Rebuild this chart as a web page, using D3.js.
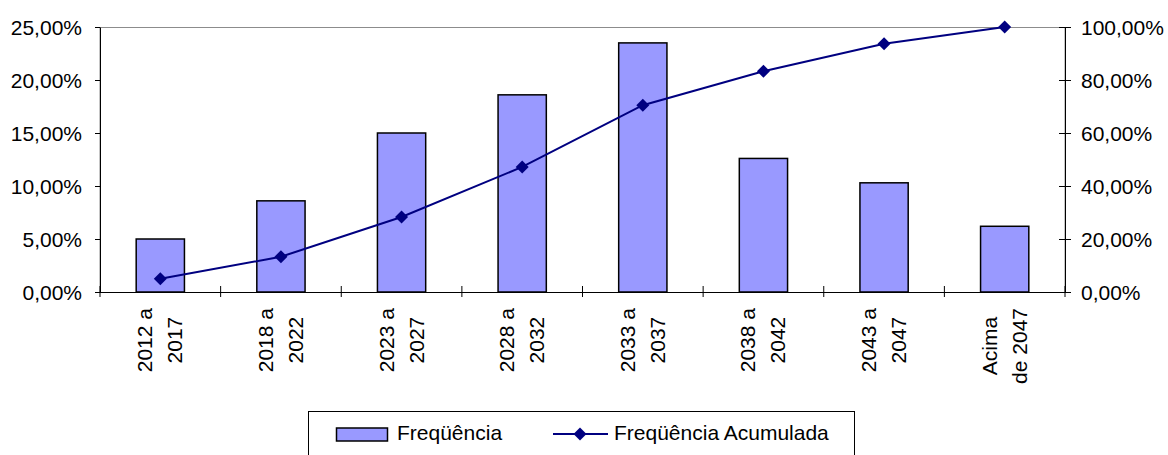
<!DOCTYPE html>
<html>
<head>
<meta charset="utf-8">
<script src="https://cdn.jsdelivr.net/npm/d3@7"></script>
<style>
  body { margin: 0; background: #fff; }
  text { font-family: "Liberation Sans", Arial, sans-serif; fill: #000; }
</style>
</head>
<body>
<div id="chart"></div>
<script>
// category labels (two lines each), values in percent
let categories = [
  ["2012 a", "2017"], ["2018 a", "2022"], ["2023 a", "2027"], ["2028 a", "2032"],
  ["2033 a", "2037"], ["2038 a", "2042"], ["2043 a", "2047"], ["Acima", "de 2047"]
];
let frequencia = [5.0, 8.6, 15.0, 18.6, 23.5, 12.6, 10.3, 6.2];
let acumulada = [5.0, 13.3, 28.3, 47.2, 70.5, 83.3, 93.7, 100.0];
let leftTicks = [0, 5, 10, 15, 20, 25];
let rightTicks = [0, 20, 40, 60, 80, 100];
let seriesNames = ["Freqüência", "Freqüência Acumulada"];

let W = 1168, H = 455;
let margin = {top: 27, right: 103, bottom: 163, left: 100},
    width = W - margin.left - margin.right,
    height = H - margin.top - margin.bottom;

let fmt = function(v) { return v.toFixed(2).replace(".", ",") + "%"; };

let svg = d3.select("#chart")
  .append("svg")
    .attr("width", W)
    .attr("height", H);

let g = svg.append("g")
    .attr("transform", "translate(" + margin.left + "," + margin.top + ")");

let idx = d3.range(categories.length);

let x = d3.scaleBand()
  .domain(idx)
  .range([0, width])
  .paddingInner(0.6)
  .paddingOuter(0.3);

let y = d3.scaleLinear().domain([0, 25]).range([height, 0]);
let y2 = d3.scaleLinear().domain([0, 100]).range([height, 0]);

// plot area border (only the top shows)
g.append("rect")
  .attr("x", 0).attr("y", 0.5)
  .attr("width", width).attr("height", height)
  .attr("fill", "none")
  .attr("stroke", "#8c8c8c")
  .attr("stroke-width", 1);

// bars
g.selectAll(".bar")
  .data(frequencia)
  .enter().append("rect")
    .attr("class", "bar")
    .attr("x", function(d, i) { return x(i); })
    .attr("y", function(d) { return y(d); })
    .attr("width", x.bandwidth())
    .attr("height", function(d) { return height - y(d); })
    .attr("fill", "#9999ff")
    .attr("stroke", "#000")
    .attr("stroke-width", 1.5);

// left axis
let la = g.append("g")
  .call(d3.axisLeft(y).tickValues(leftTicks).tickFormat(fmt).tickSize(5).tickSizeOuter(0).tickPadding(13));
la.selectAll("text").style("font-size", "21px").attr("dy", "0.34em");
la.selectAll("line, path").attr("stroke", "#000");

// right axis
let ra = g.append("g")
  .attr("transform", "translate(" + width + ",0)")
  .call(d3.axisRight(y2).tickValues(rightTicks).tickFormat(fmt).tickSize(6).tickSizeOuter(0).tickPadding(10));
ra.selectAll(".tick line").attr("x1", -6).attr("x2", 6);
ra.selectAll("text").style("font-size", "21px").attr("dy", "0.34em");
ra.selectAll("line, path").attr("stroke", "#000");

// bottom axis with ticks at category boundaries
let step = x.step();
let bottom = g.append("g").attr("transform", "translate(0," + height + ")");
bottom.append("line")
  .attr("x1", 0).attr("x2", width).attr("y1", 0.5).attr("y2", 0.5)
  .attr("stroke", "#000");
bottom.selectAll(".btick")
  .data(d3.range(categories.length + 1))
  .enter().append("line")
    .attr("x1", function(k) { return x(0) - step * 0.3 + k * step; })
    .attr("x2", function(k) { return x(0) - step * 0.3 + k * step; })
    .attr("y1", -6).attr("y2", 5)
    .attr("stroke", "#000");

// rotated two-line category labels
categories.forEach(function(lines, i) {
  let cx = x(i) + x.bandwidth() / 2;
  let lg = g.append("g").attr("transform", "translate(" + cx + "," + (height + 16) + ") rotate(-90)");
  let texts = lines.map(function(s, j) {
    return lg.append("text")
      .attr("x", 0)
      .attr("y", j === 0 ? -8 : 22)
      .attr("text-anchor", "middle")
      .style("font-size", "21px")
      .text(s);
  });
  let maxLen = d3.max(texts, function(t) { return t.node().getComputedTextLength(); });
  texts.forEach(function(t) { t.attr("x", -maxLen / 2); });
});

// cumulative line
let line = d3.line()
  .x(function(d, i) { return x(i) + x.bandwidth() / 2; })
  .y(function(d) { return y2(d); });

g.append("path")
  .datum(acumulada)
  .attr("fill", "none")
  .attr("stroke", "#000080")
  .attr("stroke-width", 2)
  .attr("d", line);

let diamond = d3.symbol().type(d3.symbolSquare).size(84);
g.selectAll(".pt")
  .data(acumulada)
  .enter().append("path")
    .attr("class", "pt")
    .attr("transform", function(d, i) {
      return "translate(" + (x(i) + x.bandwidth() / 2) + "," + y2(d) + ") rotate(45)";
    })
    .attr("d", diamond)
    .attr("fill", "#000080");

// legend
let leg = svg.append("g");
leg.append("rect")
  .attr("x", 308.5).attr("y", 411.5)
  .attr("width", 546).attr("height", 60)
  .attr("fill", "#fff")
  .attr("stroke", "#000")
  .attr("stroke-width", 1);
leg.append("rect")
  .attr("x", 336.5).attr("y", 428)
  .attr("width", 51).attr("height", 13)
  .attr("fill", "#9999ff")
  .attr("stroke", "#000")
  .attr("stroke-width", 1.5);
leg.append("text")
  .attr("x", 397).attr("y", 440)
  .style("font-size", "21px")
  .text(seriesNames[0]);
leg.append("line")
  .attr("x1", 553).attr("x2", 608).attr("y1", 434).attr("y2", 434)
  .attr("stroke", "#000080").attr("stroke-width", 2);
leg.append("path")
  .attr("transform", "translate(580,434) rotate(45)")
  .attr("d", diamond)
  .attr("fill", "#000080");
leg.append("text")
  .attr("x", 614).attr("y", 440)
  .style("font-size", "21px")
  .text(seriesNames[1]);
</script>
</body>
</html>
